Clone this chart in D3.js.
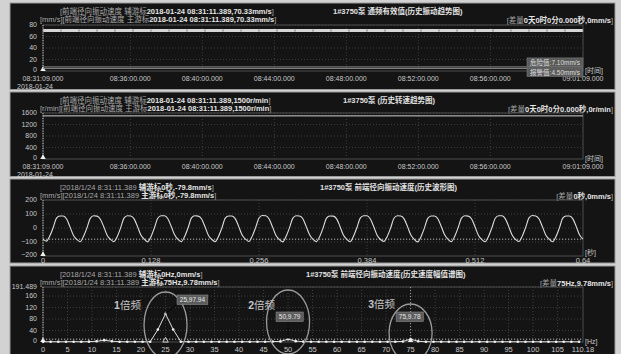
<!DOCTYPE html>
<html lang="zh">
<head>
<meta charset="utf-8">
<script src="https://cdn.jsdelivr.net/npm/d3@7"></script>
<style>
  body { margin: 0; background: #d2d2d2; }
  svg { display: block; }
  text { font-family: "Liberation Sans", "Noto Sans CJK SC", sans-serif; }
</style>
</head>
<body>
<svg id="chart" width="621" height="354"></svg>
<script>
// ---- data ----
var trendStart = "2018-01-24 08:31:09";
var trendEnd = "2018-01-24 09:01:09";
// overall rms velocity, one sample per minute (mm/s)
var rmsValues = [70.33, 70.31, 70.36, 70.29, 70.34, 70.40, 70.28, 70.33, 70.37, 70.30,
  70.35, 70.32, 70.27, 70.38, 70.33, 70.31, 70.36, 70.30, 70.34, 70.29,
  70.35, 70.33, 70.37, 70.31, 70.28, 70.34, 70.36, 70.30, 70.33, 70.35, 70.32];
var dangerValue = 7.10;
var alarmValue = 4.50;
// speed, one sample per minute (r/min)
var speedValues = [1500, 1500, 1501, 1500, 1499, 1500, 1500, 1501, 1500, 1500,
  1499, 1500, 1500, 1500, 1501, 1500, 1499, 1500, 1500, 1500,
  1501, 1500, 1500, 1499, 1500, 1500, 1500, 1501, 1500, 1500, 1500];
var timeTicks = ["08:31:09", "08:36:00", "08:40:00", "08:44:00", "08:48:00", "08:52:00", "08:56:00", "09:01:09"];

// waveform, sample step 0.004 s (mm/s)
var waveStep = 0.004;
var waveValues = [
  -79.8, -94, -58, 2, 70, 86, 86, 64, 8, -52,
  -82, -98, -60, -1, 69, 87, 85, 63, 9, -51,
  -81, -97, -61, 1, 71, 88, 86, 65, 10, -50,
  -80, -99, -62, 0, 70, 87, 87, 66, 11, -49,
  -82, -97, -59, 2, 72, 88, 85, 64, 9, -51,
  -81, -98, -60, 0, 70, 86, 86, 65, 10, -50,
  -80, -96, -58, 3, 71, 89, 87, 64, 8, -52,
  -82, -99, -61, -1, 69, 87, 86, 66, 10, -49,
  -81, -97, -60, 1, 70, 86, 85, 65, 11, -50,
  -80, -98, -59, 2, 71, 88, 87, 64, 9, -51,
  -82, -96, -60, 0, 70, 87, 86, 65, 10, -50,
  -81, -99, -62, -1, 69, 86, 86, 66, 11, -49,
  -80, -97, -59, 2, 71, 88, 85, 64, 9, -51,
  -82, -98, -60, 1, 70, 87, 87, 65, 10, -50,
  -81, -96, -58, 3, 72, 89, 86, 64, 8, -52,
  -80, -98, -61, 0, 70, 86, 86, 65, 10, -50,
  -80];
var waveTicks = [0, 0.128, 0.256, 0.384, 0.512, 0.64];

// amplitude spectrum, resolution 1.5625 Hz (mm/s)
var freqStep = 1.5625;
var specValues = [0.6, 1.0, 0.8, 0.9, 1.1, 0.8, 1.2, 2.4, 6.5, 2.6,
  1.0, 0.8, 0.9, 0.7, 1.0, 43.2, 97.94, 43.5, 1.1, 0.8,
  0.9, 0.7, 0.8, 0.9, 0.7, 0.8, 1.0, 0.8, 0.9, 1.1,
  1.4, 2.1, 9.79, 3.0, 1.2, 0.9, 0.8, 0.7, 0.8, 0.9,
  0.8, 0.7, 0.9, 0.8, 0.7, 0.9, 1.1, 2.0, 9.78, 2.4,
  1.0, 0.8, 0.9, 0.7, 0.8, 0.8, 0.7, 0.9, 0.8, 0.7,
  0.8, 0.9, 0.7, 0.8, 0.9, 0.7, 0.8, 0.7, 0.9, 0.8, 0.7];
var freqTicks = [0, 5, 10, 15, 20, 25, 30, 35, 40, 45, 50, 55, 60, 65, 70, 75, 80, 85, 90, 95, 100, 105, 110.18];
var harmonicFreqs = [25, 50, 75];
var harmonicNames = ["1倍频", "2倍频", "3倍频"];
var harmonicTags = ["25,97.94", "50,9.79", "75,9.78"];

// ---- layout ----
var svg = d3.select("#chart");
var X0 = 43, X1 = 583;
var panels = [
  {top: 3, bottom: 89.5, y: [71, 25]},
  {top: 92, bottom: 176.5, y: [159, 113]},
  {top: 179, bottom: 263, y: [256, 200]},
  {top: 266, bottom: 360, y: [342, 287]}
];

svg.selectAll("rect.panel").data(panels).enter().append("rect")
  .attr("class", "panel")
  .attr("x", 10).attr("y", function(d) { return d.top; })
  .attr("width", 605).attr("height", function(d) { return d.bottom - d.top; })
  .style("fill", "#141414").style("stroke", "#9a9a9a").style("stroke-width", 1);

function txt(g, x, y, s, opt) {
  opt = opt || {};
  return g.append("text").attr("x", x).attr("y", y)
    .attr("text-anchor", opt.anchor || "start")
    .style("font-size", (opt.size || 7) + "px")
    .style("font-weight", opt.bold ? "bold" : "normal")
    .style("fill", opt.fill || "#c8c8c8")
    .text(s);
}

// header lines: parts = [[text, bold], ...]
function headerLine(g, x, y, parts) {
  var t = g.append("text").attr("x", x).attr("y", y).style("font-size", "7.5px");
  parts.forEach(function(p) {
    t.append("tspan").text(p[0])
      .style("font-weight", p[1] ? "bold" : "normal")
      .style("fill", p[1] ? "#e4e4e4" : "#a8a8a8");
  });
  return t;
}

function header(p, h) {
  var g = svg.append("g");
  headerLine(g, 60, p.top + 10.5, h.l1);
  headerLine(g, 40, p.top + 18.5, h.l2);
  txt(g, h.tx, p.top + 10.5, h.title, {bold: true, fill: "#e2e2e2", size: 7.5});
  headerLine(g, 613, p.top + 19.5, h.right).attr("text-anchor", "end");
}

function frame(p, y, yTicks, yFmt, x, xTicks, xFmt, opt) {
  var g = svg.append("g");
  var yb = p.y[0], yt = p.y[1];
  // grid
  g.selectAll("line.gy").data(yTicks.slice(1)).enter().append("line")
    .attr("x1", X0).attr("x2", X1)
    .attr("y1", function(d) { return y(d); }).attr("y2", function(d) { return y(d); })
    .style("stroke", "#3e3e3e").style("stroke-dasharray", "1,2");
  g.selectAll("line.gx").data(xTicks.slice(1, -1)).enter().append("line")
    .attr("x1", function(d) { return x(d); }).attr("x2", function(d) { return x(d); })
    .attr("y1", yt).attr("y2", yb)
    .style("stroke", "#3e3e3e").style("stroke-dasharray", "1,2");
  g.append("rect").attr("x", X0).attr("y", yt).attr("width", X1 - X0).attr("height", yb - yt)
    .style("fill", "none").style("stroke", "#4c4c4c");
  g.append("line").attr("x1", X0).attr("x2", X0).attr("y1", yt).attr("y2", yb)
    .style("stroke", "#bdbdbd").style("stroke-dasharray", "1,1.5");
  // tick labels
  yTicks.forEach(function(d, i) {
    txt(g, 37, y(d) + (i === 0 ? 1.2 : 2.3), yFmt(d), {anchor: "end", size: 7});
  });
  xTicks.forEach(function(d) {
    txt(g, x(d), yb + opt.dx, xFmt(d), {anchor: "middle", size: opt.date ? 7 : 7.5});
  });
  if (opt.date) txt(g, 17, yb + opt.dx + 8, opt.date, {size: 7});
  txt(g, 585, yb + opt.ux, opt.unit, {size: 7});
  g.append("path").attr("d", d3.symbol(d3.symbolTriangle).size(13)())
    .attr("transform", "translate(" + X0 + "," + (yb - 1.5) + ")")
    .style("fill", "#f0f0f0");
  return g;
}

var parseFull = d3.timeParse("%Y-%m-%d %H:%M:%S");
var t0 = parseFull(trendStart), t1 = parseFull(trendEnd);
var xTime = d3.scaleTime().domain([t0, t1]).range([X0, X1]);
var timeTickDates = timeTicks.map(function(s) { return parseFull("2018-01-24 " + s); });
var fmtTime = d3.timeFormat("%H:%M:%S.000");
var trendTimes = rmsValues.map(function(v, i) { return d3.timeMinute.offset(t0, i); });

// ---- panel 1: rms trend ----
var p1 = panels[0];
var y1 = d3.scaleLinear().domain([0, 80]).range(p1.y);
header(p1, {
  l1: [["[前端径向振动速度 辅游标", 0], ["2018-01-24 08:31:11.389,70.33mm/s", 1], ["]", 0]],
  l2: [["[mm/s][前端径向振动速度 主游标", 0], ["2018-01-24 08:31:11.389,70.33mm/s", 1], ["]", 0]],
  tx: 333, title: "1#3750泵 通频有效值(历史振动趋势图)",
  right: [["[差量", 0], ["0天0时0分0.000秒,0mm/s", 1], ["]", 0]]
});
var g1 = frame(p1, y1, [0, 20, 40, 60, 80], d3.format("d"), xTime, timeTickDates, fmtTime,
  {dx: 9.5, ux: 1.5, date: "2018-01-24", unit: "[时间]"});
[dangerValue, alarmValue].forEach(function(v) {
  g1.append("line").attr("x1", X0).attr("x2", X1).attr("y1", y1(v)).attr("y2", y1(v))
    .style("stroke", "#8a8a8a").style("stroke-width", 1);
});
var line1 = d3.line().x(function(d, i) { return xTime(trendTimes[i]); }).y(function(d) { return y1(d); });
g1.append("path").attr("d", line1(rmsValues))
  .style("fill", "none").style("stroke", "#d6d6d6").style("stroke-width", 3);
g1.selectAll("rect.pt").data(rmsValues).enter().append("rect")
  .attr("x", function(d, i) { return xTime(trendTimes[i]) - 0.5; })
  .attr("y", function(d) { return y1(d) - 1; })
  .attr("width", 1).attr("height", 2).style("fill", "#777");
var limBox = [["危险值:7.10mm/s", y1(dangerValue) - 9], ["报警值:4.50mm/s", y1(alarmValue) - 0.5]];
limBox.forEach(function(b) {
  g1.append("rect").attr("x", 527).attr("y", b[1]).attr("width", 56).attr("height", 8.5)
    .style("fill", "#5a5a5a").style("stroke", "#7a7a7a").style("stroke-width", 0.6);
  txt(g1, 555, b[1] + 6.7, b[0], {anchor: "middle", size: 6.5, fill: "#dcdcdc"});
});

// ---- panel 2: speed trend ----
var p2 = panels[1];
var y2 = d3.scaleLinear().domain([0, 1600]).range(p2.y);
header(p2, {
  l1: [["[前端径向振动速度 辅游标", 0], ["2018-01-24 08:31:11.389,1500r/min", 1], ["]", 0]],
  l2: [["[r/min][前端径向振动速度 主游标", 0], ["2018-01-24 08:31:11.389,1500r/min", 1], ["]", 0]],
  tx: 343, title: "1#3750泵 (历史转速趋势图)",
  right: [["[差量", 0], ["0天0时0分0.000秒,0r/min", 1], ["]", 0]]
});
var g2 = frame(p2, y2, [0, 400, 800, 1200, 1600], d3.format("d"), xTime, timeTickDates, fmtTime,
  {dx: 9.5, ux: 1.5, date: "2018-01-24", unit: "[时间]"});
var line2 = d3.line().x(function(d, i) { return xTime(trendTimes[i]); }).y(function(d) { return y2(d); });
g2.append("path").attr("d", line2(speedValues))
  .style("fill", "none").style("stroke", "#d0d0d0").style("stroke-width", 1);

// ---- panel 3: waveform ----
var p3 = panels[2];
var y3 = d3.scaleLinear().domain([-200, 200]).range(p3.y);
var xWave = d3.scaleLinear().domain([0, 0.64]).range([X0, X1]);
header(p3, {
  l1: [["[2018/1/24 8:31:11.389 ", 0], ["辅游标0秒,-79.8mm/s", 1], ["]", 0]],
  l2: [["[mm/s][2018/1/24 8:31:11.389 ", 0], ["主游标0秒,-79.8mm/s", 1], ["]", 0]],
  tx: 320, title: "1#3750泵 前端径向振动速度(历史波形图)",
  right: [["[差量", 0], ["0秒,0mm/s", 1], ["]", 0]]
});
var g3 = frame(p3, y3, [-200, -100, 0, 100, 200], d3.format("d"), xWave, waveTicks,
  function(d) { return d === 0 ? "0" : String(d); }, {dx: 7.3, ux: -1.5, unit: "[秒]"});
g3.append("line").attr("x1", X0).attr("x2", X1).attr("y1", y3(-79.8)).attr("y2", y3(-79.8))
  .style("stroke", "#bdbdbd").style("stroke-dasharray", "1.2,1.8");
var line3 = d3.line().curve(d3.curveMonotoneX)
  .x(function(d, i) { return xWave(i * waveStep); }).y(function(d) { return y3(d); });
g3.append("path").attr("d", line3(waveValues))
  .style("fill", "none").style("stroke", "#dedede").style("stroke-width", 1.1);

// ---- panel 4: spectrum ----
var p4 = panels[3];
var y4 = d3.scaleLinear().domain([0, 191.489]).range(p4.y);
var xFreq = d3.scaleLinear().domain([0, 110.18]).range([X0, X1]);
header(p4, {
  l1: [["[2018/1/24 8:31:11.389 ", 0], ["辅游标0Hz,0mm/s", 1], ["]", 0]],
  l2: [["[mm/s][2018/1/24 8:31:11.389 ", 0], ["主游标75Hz,9.78mm/s", 1], ["]", 0]],
  tx: 306, title: "1#3750泵 前端径向振动速度(历史速度幅值谱图)",
  right: [["[差量", 0], ["75Hz,9.78mm/s", 1], ["]", 0]]
});
var g4 = frame(p4, y4, [0, 40, 80, 120, 160, 191.489], d3.format(""), xFreq, freqTicks,
  d3.format(""), {dx: 10, ux: 1.5, unit: "[Hz]"});
// cursor lines
g4.append("line").attr("x1", X0).attr("x2", X1).attr("y1", y4(9.78)).attr("y2", y4(9.78))
  .style("stroke", "#bdbdbd").style("stroke-dasharray", "1.2,1.8");
g4.append("line").attr("x1", xFreq(75)).attr("x2", xFreq(75)).attr("y1", p4.y[1]).attr("y2", p4.y[0])
  .style("stroke", "#a0a0a0").style("stroke-dasharray", "1.2,1.8");
var line4 = d3.line().x(function(d, i) { return xFreq(i * freqStep); }).y(function(d) { return y4(d); });
g4.append("path").attr("d", line4(specValues))
  .style("fill", "none").style("stroke", "#e0e0e0").style("stroke-width", 1);
g4.selectAll("circle.pt").data(specValues).enter().append("circle")
  .attr("cx", function(d, i) { return xFreq(i * freqStep); })
  .attr("cy", function(d) { return y4(d); })
  .attr("r", 1.3).style("fill", "#f2f2f2");
// cursor markers
[25, 75].forEach(function(f, i) {
  g4.append("path").attr("d", d3.symbol(d3.symbolTriangle).size(13)())
    .attr("transform", "translate(" + xFreq(f) + "," + (p4.y[0] - 1.5) + ")")
    .style("fill", i ? "#f0f0f0" : "none").style("stroke", i ? "none" : "#f0f0f0").style("stroke-width", 0.8);
});
// harmonic annotations
var ann = [
  {lx: -38, ly: 309, ry: 33, cy: 325, bx: 11.5, by: 295, lead: [[0, 0], [12.5, -11]]},
  {lx: -26.5, ly: 309, ry: 32, cy: 322, bx: -12, by: 312, lead: [[0, 0], [0, -18]]},
  {lx: -29, ly: 308, ry: 29, cy: 333, bx: -14.5, by: 312, lead: null}
];
harmonicFreqs.forEach(function(f, i) {
  var a = ann[i], cx = xFreq(f);
  var v = specValues[Math.round(f / freqStep)];
  g4.append("ellipse").attr("cx", cx).attr("cy", a.cy).attr("rx", 21.5).attr("ry", a.ry)
    .style("fill", "none").style("stroke", "#9a9a9a").style("stroke-width", 1.3);
  var t = g4.append("text").attr("x", cx + a.lx).attr("y", a.ly)
    .attr("text-anchor", "middle").style("font-size", "10.5px").style("fill", "#c4c4c4");
  t.append("tspan").text(harmonicNames[i].slice(0, 1)).style("font-weight", "bold");
  t.append("tspan").text(harmonicNames[i].slice(1));
  if (a.lead) {
    g4.append("line")
      .attr("x1", cx + a.lead[0][0]).attr("y1", y4(v) + a.lead[0][1])
      .attr("x2", cx + a.lead[1][0]).attr("y2", y4(v) + a.lead[1][1])
      .style("stroke", "#050505").style("stroke-width", 1);
  }
  var w = harmonicTags[i].length * 3.6 + 2;
  g4.append("rect").attr("x", cx + a.bx).attr("y", a.by).attr("width", w).attr("height", 9.5)
    .style("fill", "#5c5c5c").style("stroke", "#8a8a8a").style("stroke-width", 0.6);
  txt(g4, cx + a.bx + w / 2, a.by + 7, harmonicTags[i], {anchor: "middle", size: 6.5, fill: "#e6e6e6"});
});
</script>
</body>
</html>
